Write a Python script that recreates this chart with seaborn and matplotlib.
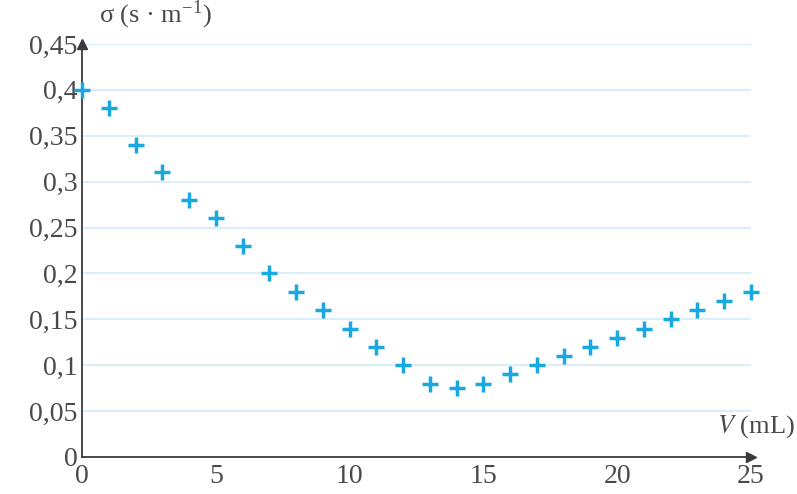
import numpy as np
import pandas as pd
import matplotlib
matplotlib.use("Agg")
import matplotlib.pyplot as plt
import seaborn as sns

# données
volume_ml = [0, 1, 2, 3, 4, 5, 6, 7, 8, 9, 10, 11, 12, 13, 14, 15, 16, 17, 18, 19, 20, 21, 22, 23, 24, 25]
sigma = [0.40, 0.38, 0.34, 0.31, 0.28, 0.26, 0.23, 0.20, 0.18, 0.16, 0.14, 0.12, 0.10, 0.08, 0.075,
         0.08, 0.09, 0.10, 0.11, 0.12, 0.13, 0.14, 0.15, 0.16, 0.17, 0.18]
x_ticks = [0, 5, 10, 15, 20, 25]
y_ticks = [0, 0.05, 0.1, 0.15, 0.2, 0.25, 0.3, 0.35, 0.4, 0.45]
y_tick_labels = ["0", "0,05", "0,1", "0,15", "0,2", "0,25", "0,3", "0,35", "0,4", "0,45"]

MARK_COLOR = "#18a9e1"
GRID_COLOR = "#d4edf9"
AXIS_COLOR = "#3a3a3a"
TEXT_COLOR = "#4a4a4a"

sns.set_style("white")
plt.rcParams['font.family'] = ['Liberation Serif', 'DejaVu Serif']
plt.rcParams['mathtext.fontset'] = 'stix'

df = pd.DataFrame({"V": volume_ml, "sigma": sigma})

fig = plt.figure(figsize=(7.97, 4.94), dpi=100)
ax = fig.add_axes([0.1029, 0.0749, 0.8394, 0.836])

# grille horizontale
for yv in y_ticks[1:]:
    ax.axhline(yv, color=GRID_COLOR, lw=1.3, zorder=0)

sns.scatterplot(data=df, x="V", y="sigma", marker="+", s=140, linewidth=2.5,
                color=MARK_COLOR, ax=ax, zorder=3, clip_on=False)

ax.set_xlim(0, 25)
ax.set_ylim(0, 0.45)
ax.set_xticks(x_ticks)
ax.set_xticklabels([str(t) for t in x_ticks])
ax.set_yticks(y_ticks)
ax.set_yticklabels(y_tick_labels)
ax.tick_params(axis='both', direction='inout', length=6, width=1, color=AXIS_COLOR,
               labelsize=20, labelcolor=TEXT_COLOR, pad=0)
ax.tick_params(axis='x', pad=2)
ax.set_xlabel("")
ax.set_ylabel("")

for side in ["top", "right"]:
    ax.spines[side].set_visible(False)
for side in ["left", "bottom"]:
    ax.spines[side].set_color(AXIS_COLOR)
    ax.spines[side].set_linewidth(1.3)

# flèches des axes
ax.plot(1, 0, ">", color=AXIS_COLOR, ms=7, transform=ax.transAxes, clip_on=False)
ax.plot(0, 1, "^", color=AXIS_COLOR, ms=7, transform=ax.transAxes, clip_on=False)

ax.text(0.025, 1.07, "σ (s · m$^{\\mathregular{-1}}$)", transform=ax.transAxes, fontsize=19,
        color=TEXT_COLOR, ha="left", va="center")
ax.text(1.065, 0.073, "$V$ (mL)", transform=ax.transAxes, fontsize=19,
        color=TEXT_COLOR, ha="right", va="center")

plt.savefig("out.png", dpi=100)
